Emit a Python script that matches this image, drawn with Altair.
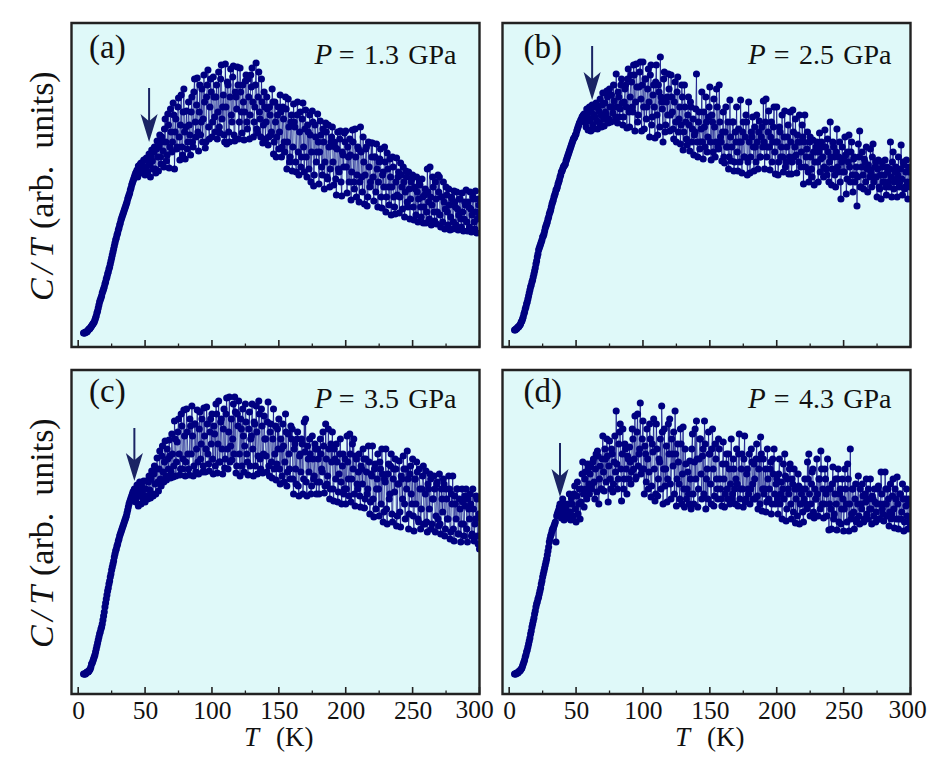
import altair as alt
import pandas as pd

TEMPERATURE = [
    4,5,6,7,8,9,10,11,12,13,14,15,16,17,18,19,20,21,22,23,24,25,26,27,28,29,30,31,32,33,
    34,35,36,37,38,39,40,41,42,43,44,45,46,47,48,49,50,51,52,53,54,55,56,57,58,59,60,61,62,63,
    64,65,66,67,68,69,70,71,72,73,74,75,76,77,78,79,80,81,82,83,84,85,86,87,88,89,90,91,92,93,
    94,95,96,97,98,99,100,101,102,103,104,105,106,107,108,109,110,111,112,113,114,115,116,117,118,119,120,121,122,123,
    124,125,126,127,128,129,130,131,132,133,134,135,136,137,138,139,140,141,142,143,144,145,146,147,148,149,150,151,152,153,
    154,155,156,157,158,159,160,161,162,163,164,165,166,167,168,169,170,171,172,173,174,175,176,177,178,179,180,181,182,183,
    184,185,186,187,188,189,190,191,192,193,194,195,196,197,198,199,200,201,202,203,204,205,206,207,208,209,210,211,212,213,
    214,215,216,217,218,219,220,221,222,223,224,225,226,227,228,229,230,231,232,233,234,235,236,237,238,239,240,241,242,243,
    244,245,246,247,248,249,250,251,252,253,254,255,256,257,258,259,260,261,262,263,264,265,266,267,268,269,270,271,272,273,
    274,275,276,277,278,279,280,281,282,283,284,285,286,287,288,289,290,291,292,293,294,295,296,297,298,299,300,
]

TEMPERATURE_HALF = [
    4.5,5.5,6.5,7.5,8.5,9.5,10.5,11.5,12.5,13.5,14.5,15.5,16.5,17.5,18.5,19.5,20.5,21.5,22.5,23.5,
    24.5,25.5,26.5,27.5,28.5,29.5,30.5,31.5,32.5,33.5,34.5,35.5,36.5,37.5,38.5,39.5,40.5,41.5,42.5,43.5,
    44.5,45.5,46.5,47.5,48.5,49.5,50.5,51.5,52.5,53.5,54.5,55.5,56.5,57.5,58.5,59.5,60.5,61.5,62.5,63.5,
    64.5,65.5,66.5,67.5,68.5,69.5,70.5,71.5,72.5,73.5,74.5,75.5,76.5,77.5,78.5,79.5,80.5,81.5,82.5,83.5,
    84.5,85.5,86.5,87.5,88.5,89.5,90.5,91.5,92.5,93.5,94.5,95.5,96.5,97.5,98.5,99.5,100.5,101.5,102.5,103.5,
    104.5,105.5,106.5,107.5,108.5,109.5,110.5,111.5,112.5,113.5,114.5,115.5,116.5,117.5,118.5,119.5,120.5,121.5,122.5,123.5,
    124.5,125.5,126.5,127.5,128.5,129.5,130.5,131.5,132.5,133.5,134.5,135.5,136.5,137.5,138.5,139.5,140.5,141.5,142.5,143.5,
    144.5,145.5,146.5,147.5,148.5,149.5,150.5,151.5,152.5,153.5,154.5,155.5,156.5,157.5,158.5,159.5,160.5,161.5,162.5,163.5,
    164.5,165.5,166.5,167.5,168.5,169.5,170.5,171.5,172.5,173.5,174.5,175.5,176.5,177.5,178.5,179.5,180.5,181.5,182.5,183.5,
    184.5,185.5,186.5,187.5,188.5,189.5,190.5,191.5,192.5,193.5,194.5,195.5,196.5,197.5,198.5,199.5,200.5,201.5,202.5,203.5,
    204.5,205.5,206.5,207.5,208.5,209.5,210.5,211.5,212.5,213.5,214.5,215.5,216.5,217.5,218.5,219.5,220.5,221.5,222.5,223.5,
    224.5,225.5,226.5,227.5,228.5,229.5,230.5,231.5,232.5,233.5,234.5,235.5,236.5,237.5,238.5,239.5,240.5,241.5,242.5,243.5,
    244.5,245.5,246.5,247.5,248.5,249.5,250.5,251.5,252.5,253.5,254.5,255.5,256.5,257.5,258.5,259.5,260.5,261.5,262.5,263.5,
    264.5,265.5,266.5,267.5,268.5,269.5,270.5,271.5,272.5,273.5,274.5,275.5,276.5,277.5,278.5,279.5,280.5,281.5,282.5,283.5,
    284.5,285.5,286.5,287.5,288.5,289.5,290.5,291.5,292.5,293.5,294.5,295.5,296.5,297.5,298.5,299.5,
]

CT_A = [
    14,14,15,16,18,19,21,23,25,29, 34,39,45,49,54,58,63,68,73,78,
    83,89,95,101,107,112,117,122,127,131, 135,139,143,148,152,157,162,166,170,174,
    177,181,176,184,178,187,
    172,189,175,193,170,197,178,200,174,206, 176,212,183,205,180,228,186,233,179,238,
    195,244,178,228,200,249,187,252,192,258, 188,236,205,222,192,250,200,268,210,269,
    196,262,225,205,272,199,250,277,208,268, 210,270,230,250,208,275,214,282,240,212,
    283,203,262,205,278,225,281,206,250,280, 208,279,235,262,207,266,225,268,208,272,
    279,210,240,284,214,275,228,268,204,255, 208,250,202,240,212,258,193,245,190,232,
    198,252,190,240,205,250,178,248,185,225, 176,243,220,175,245,172,235,190,244,175,
    237,170,215,232,165,236,161,222,185,233, 163,226,180,218,158,224,170,222,160,205,
    220,162,200,152,215,175,216,151,192,214, 216,154,190,208,147,217,165,218,150,200,
    145,220,170,210,143,198,141,205,160,204, 204,146,190,203,140,185,198,139,175,200,
    135,194,160,188,132,190,150,133,189,170, 134,184,160,180,130,176,145,175,128,165,
    172,127,158,170,125,165,140,168,124,152, 124,178,145,180,122,170,135,165,123,172,
    170,120,150,165,118,160,135,158,117,150, 118,156,140,155,117,148,128,154,116,145,
    157,116,140,155,115,150,125,156,114,148, 130,
]
CT_A_HALF = [
    14,15,15,17,18,20,22,24,27,31, 36,42,47,51,56,60,65,70,75,80,
    86,92,98,104,109,114,119,124,129,133, 137,141,145,150,154,159,164,168,172,175,
    170,178,183,174,181,180,
    180,176,186,182,190,186,195,178,198,190, 200,190,210,196,218,205,192,222,200,215,
    205,232,215,198,240,210,222,200,235,215, 220,198,245,212,235,205,255,225,242,215,
    235,212,258,228,245,205,262,220,240,255, 225,250,215,262,235,220,268,228,252,205,
    240,265,215,250,232,270,212,255,238,262, 225,255,214,245,235,272,218,250,232,260,
    245,225,262,218,250,235,210,245,222,240, 225,238,210,232,215,245,205,225,210,240,
    215,235,200,228,195,238,205,220,190,232, 200,225,185,232,195,215,180,228,200,218,
    190,222,178,212,195,225,172,210,195,205, 195,212,172,205,185,215,168,200,178,210,
    185,205,168,198,178,208,165,195,180,205, 180,200,165,192,175,205,158,190,172,198,
    165,195,155,185,172,200,150,180,165,190, 170,190,155,178,165,188,150,172,160,185,
    150,178,142,170,160,180,140,165,152,175, 150,172,138,165,155,170,140,158,148,168,
    140,160,132,155,148,162,130,150,140,158, 135,155,128,150,142,160,126,148,135,155,
    132,150,125,145,138,152,122,142,130,148, 125,145,122,138,132,148,120,135,128,142,
    125,145,120,138,132,148,118,135,128,142,
]

CT_B = [
    17,18,19,20,22,25,28,33,38,43, 48,54,60,65,70,76,83,90,97,101,
    105,110,113,119,123,128,133,137,143,147, 152,157,160,165,170,175,178,181,183,188,
    192,196,200,204,208,210,213,218,222,225, 228,231,233,225,238,217,
    240,216,242,218,230,244,218,236,248,220, 254,221,235,256,224,258,225,240,262,226,
    273,224,250,238,268,222,245,262,219,278, 220,272,240,282,216,283,225,260,285,216,
    285,218,268,240,278,210,282,230,262,209, 282,212,255,290,245,205,275,222,250,273,
    216,272,235,208,265,205,270,228,203,262, 197,262,225,202,250,196,240,218,192,215,
    273,190,235,205,255,188,220,250,195,230, 260,187,225,248,190,258,200,262,210,186,
    235,184,240,200,178,247,186,225,176,215, 240,176,205,247,174,225,190,232,172,245,
    174,215,230,176,200,232,178,226,190,220, 246,178,248,200,236,177,225,205,240,173,
    240,172,220,190,232,175,236,185,210,173, 235,173,237,190,228,174,205,232,180,222,
    163,232,190,215,165,210,178,207,162,195, 205,165,214,188,200,170,217,178,208,165,
    225,162,205,190,160,218,175,205,148,200, 188,210,153,195,212,165,205,155,190,172,
    141,203,216,160,195,158,185,200,155,178, 198,160,203,170,185,150,187,158,148,180,
    165,187,152,175,160,205,150,195,165,180, 150,190,165,202,152,182,160,187,148,175, 165,
]
CT_B_HALF = [
    17,18,20,21,23,26,30,35,40,45, 51,57,62,67,73,79,86,93,99,103,
    107,111,116,121,125,130,135,140,145,150, 154,158,163,167,172,176,180,182,186,190,
    194,198,202,206,209,212,
    216,220,224,227,230,232,230,220,232,228, 226,235,222,232,240,226,240,224,232,242,
    228,244,232,250,228,240,252,234,246,230, 240,255,230,262,244,230,258,240,268,235,
    250,265,235,272,245,260,232,275,248,262, 240,268,228,258,245,272,222,252,240,265,
    232,262,220,250,238,268,215,245,232,258, 232,250,218,245,225,255,215,240,222,250,
    215,240,208,232,222,245,205,228,212,238, 205,225,198,218,205,235,200,225,210,240,
    205,232,195,220,205,240,198,225,205,215, 190,215,200,225,190,210,200,225,185,205,
    195,218,185,205,215,190,210,225,185,205, 190,210,200,220,185,205,215,190,210,200,
    205,225,190,215,200,210,185,220,195,205, 205,185,215,200,190,210,180,200,222,190,
    205,185,215,200,192,212,185,205,195,210, 205,180,198,175,205,190,170,195,185,200,
    185,195,175,205,190,180,200,172,195,185, 190,178,200,172,195,180,190,165,185,175,
    175,192,168,185,180,195,172,188,165,180, 170,190,160,180,172,188,165,178,182,170,
    175,190,165,180,170,178,160,172,185,165, 172,160,180,165,178,170,185,158,175,168,
    172,160,178,168,185,158,175,165,180,160,
]

CT_C = [
    20,20,21,22,23,25,30,33,37,42, 48,54,60,65,70,78,87,95,103,110,
    117,124,130,137,143,148,153,158,162,166, 170,174,178,184,190,194,198,202,205,192,
    209,188,212,190,200,213,
    192,213,195,218,196,223,198,228,200,236, 203,243,208,248,212,253,214,235,254,216,
    260,217,273,218,252,275,219,280,225,284, 218,285,240,219,268,288,218,270,222,284,
    220,282,250,222,286,222,287,240,223,275, 280,220,260,290,221,293,232,275,220,285,
    235,296,225,297,248,234,290,297,221,280, 293,218,265,285,222,290,240,219,282,255,
    290,218,270,288,220,293,235,285,221,278, 255,222,292,218,270,216,285,240,214,265,
    275,210,245,270,212,280,208,260,225,268, 265,200,250,210,262,198,240,255,200,272,
    275,198,235,255,200,258,215,250,200,245, 200,255,225,262,201,270,210,265,195,250,
    262,193,235,250,192,220,255,190,240,205, 190,258,215,260,192,250,255,188,235,205,
    240,187,225,245,186,235,200,248,180,220, 248,177,230,205,240,178,225,245,172,215,
    245,170,230,200,240,172,225,235,168,210, 233,167,215,238,190,225,243,165,220,200,
    235,163,215,232,175,225,165,205,228,170, 223,162,205,220,165,195,218,162,210,175,
    220,160,195,215,158,205,175,218,155,200, 218,153,190,205,160,195,152,205,170,198,
    205,152,185,200,158,205,153,175,195,150, 145,
]
CT_C_HALF = [
    20,20,22,22,24,27,31,35,39,45, 51,57,62,67,74,82,91,99,106,113,
    120,127,133,140,145,150,155,160,164,168, 172,176,181,187,192,196,200,203,200,196,
    198,205,200,208,195,205,
    205,198,212,204,215,200,220,210,225,212, 225,215,238,222,232,218,245,225,238,222,
    240,228,255,232,262,240,225,268,235,258, 232,262,225,275,240,258,228,270,245,232,
    265,235,275,228,258,245,270,230,262,250, 235,268,228,280,250,232,272,245,265,226,
    280,245,262,232,275,255,240,282,228,268, 240,275,228,258,248,272,232,265,228,258,
    245,272,228,262,238,280,225,268,240,255, 238,272,228,262,232,255,225,268,230,245,
    225,255,218,248,232,262,222,240,215,255, 215,245,225,255,208,238,222,250,215,242,
    212,248,222,240,208,235,218,245,212,235, 212,240,222,248,208,235,218,245,205,232,
    205,245,215,232,202,240,212,228,200,235, 205,232,198,240,215,225,200,238,210,222,
    198,228,210,235,195,222,205,232,192,218, 195,225,185,215,205,232,190,220,182,212,
    185,220,195,228,180,215,202,225,178,210, 182,218,195,225,175,205,215,180,228,190,
    178,215,190,222,172,205,185,218,170,200, 172,210,185,215,170,195,205,178,212,168,
    170,205,182,210,165,195,175,205,162,190, 165,198,175,205,160,185,170,192,158,188,
    165,195,175,190,160,185,170,198,158,180,
]

CT_D = [
    20,20,21,22,23,25,28,32,37,42, 47,53,60,67,73,80,87,92,97,103,
    110,117,123,129,135,143,152,158,163,166, 170,152,180,184,190,176,195,174,190,180,
    176,200,174,190,178,208,
    172,212,190,175,205,232,187,222,195,226, 200,227,210,235,195,240,243,190,228,205,
    258,203,235,255,192,253,205,240,210,258, 283,205,250,270,193,265,215,245,200,235,
    247,210,265,225,278,217,280,240,291,225, 273,200,240,265,205,270,197,250,275,193,
    270,198,235,255,288,190,265,225,192,270, 275,195,240,262,283,188,250,210,265,190,
    267,187,230,205,200,233,185,260,190,265, 273,187,235,255,195,245,273,185,225,262,
    240,190,265,188,250,215,195,245,205,188, 252,187,230,205,240,190,255,200,225,190,
    245,188,260,205,240,187,258,195,225,200, 190,245,210,230,195,250,185,235,257,183,
    235,205,182,245,195,225,180,235,245,190, 215,180,235,200,175,230,240,173,215,200,
    230,175,210,225,171,205,220,170,190,205, 172,215,190,232,240,178,210,225,176,195,
    235,178,215,243,190,176,225,200,235,164, 205,165,227,180,215,164,225,200,170,215,
    163,225,190,230,163,245,180,205,165,210, 175,218,170,190,210,172,200,215,175,195,
    215,170,195,205,172,190,208,175,222,185, 173,222,190,205,168,210,180,215,166,195,
    217,165,200,175,210,163,195,205,165,190, 170,
]
CT_D_HALF = [
    20,21,21,23,24,26,30,34,39,44, 50,56,63,70,76,83,90,95,100,106,
    113,120,126,132,139,147,155,160,165,168, 172,178,182,187,186,182,188,178,185,178,
    190,182,196,178,200,185,
    198,180,205,192,220,200,215,205,230,210, 220,205,232,212,225,202,238,215,205,235,
    222,245,212,238,228,215,245,202,232,222, 230,215,262,225,240,205,250,225,238,215,
    232,222,255,235,215,262,228,245,220,255, 225,248,212,235,222,255,208,242,225,200,
    245,215,232,205,262,225,208,248,215,240, 210,255,228,200,240,215,232,195,250,220,
    205,245,195,222,190,215,245,200,232,215, 235,205,255,220,238,200,250,215,195,240,
    210,245,225,198,235,205,255,215,195,230, 215,200,240,195,225,210,195,235,205,215,
    210,240,195,225,205,235,192,220,205,240, 205,232,195,215,235,198,225,190,240,205,
    200,225,192,215,205,232,190,220,200,210, 195,220,190,212,205,195,218,185,205,225,
    190,215,182,205,195,178,208,190,200,182, 195,205,185,215,200,190,222,182,205,195,
    200,215,185,225,205,190,215,178,205,190, 185,210,175,200,190,215,172,205,185,195,
    185,205,172,215,190,175,205,182,195,172, 190,178,205,185,198,175,192,180,205,185,
    185,198,178,192,182,205,175,190,200,180, 190,205,178,195,182,175,198,185,205,175,
    190,175,200,182,195,172,188,178,195,175,
]

MAJOR_TICKS = [0, 50, 100, 150, 200, 250, 300]
MINOR_TICKS = [25, 75, 125, 175, 225, 275]
PANEL_NAMES = ["(a)", "(b)", "(c)", "(d)"]
PRESSURES = ["1.3", "2.5", "3.5", "4.3"]
ARROW_T = [53, 62, 42, 38]
ARROW_TOP = [259, 301, 266, 251]
ARROW_TIP = [205, 247, 213, 197]

W, H = 408, 324
NAVY = "#000080"
ARROW = "#1a2464"
BG = "#DFF9F9"
INK = "#111111"
FRAME = "#222222"
SERIF = "Liberation Serif"
XS = alt.Scale(domain=[-5, 300], nice=False, zero=False)
YS = alt.Scale(domain=[0, 324], nice=False, zero=False)
ONE = alt.Data(values=[{"a": 1}])


def label(txt, x, y, size, italic=False, angle=0, align="left"):
    return alt.Chart(ONE).mark_text(
        text=txt, font=SERIF, fontSize=size, fontStyle="italic" if italic else "normal",
        angle=angle, align=align, baseline="alphabetic", color=INK,
    ).encode(x=alt.value(x), y=alt.value(y))


def panel(i, whole, half, left, bottom, name_x, text_y):
    df = pd.DataFrame({"T": TEMPERATURE + TEMPERATURE_HALF, "C": whole + half}).sort_values("T")
    shown = [v for v in MAJOR_TICKS if not (i >= 2 and v == 300)]
    x = alt.X("T:Q", scale=XS, axis=alt.Axis(
        values=shown, tickSize=0, domain=False, grid=False, title=None, labels=bottom,
        labelFont=SERIF, labelFontSize=25.5, labelColor=INK, labelPadding=4,
        labelAngle=0, labelFlush=False, labelOverlap=False, format="d"))
    y = alt.Y("C:Q", scale=YS, axis=None)
    line = alt.Chart(df).mark_line(color=NAVY, strokeWidth=0.7, clip=True).encode(x=x, y=y)
    dots = alt.Chart(df).mark_circle(color=NAVY, size=50, opacity=1, clip=True).encode(x=x, y=y)

    arrow_df = pd.DataFrame({"T": [ARROW_T[i]], "top": [ARROW_TOP[i]], "tip": [ARROW_TIP[i]],
                             "head": [ARROW_TIP[i] + 14]})
    shaft = alt.Chart(arrow_df).mark_rule(color=ARROW, strokeWidth=2).encode(
        x=alt.X("T:Q", scale=XS), y=alt.Y("top:Q", scale=YS), y2="head:Q")
    head = alt.Chart(arrow_df).mark_point(
        shape="M0,0.93L-0.57,-0.93L0,-0.45L0.57,-0.93Z", size=900, filled=True, color=ARROW, opacity=1, strokeWidth=0,
    ).encode(x=alt.X("T:Q", scale=XS), y=alt.Y("head:Q", scale=YS))

    major = alt.Chart(pd.DataFrame({"T": MAJOR_TICKS})).mark_rule(color=FRAME, strokeWidth=1.6).encode(
        x=alt.X("T:Q", scale=XS), y=alt.value(H), y2=alt.value(H - 7))
    minor = alt.Chart(pd.DataFrame({"T": MINOR_TICKS})).mark_rule(color=FRAME, strokeWidth=1.3).encode(
        x=alt.X("T:Q", scale=XS), y=alt.value(H), y2=alt.value(H - 3.5))
    frame = alt.Chart(ONE).mark_rect(fillOpacity=0, stroke=FRAME, strokeWidth=2.4).encode(
        x=alt.value(0), x2=alt.value(W), y=alt.value(0), y2=alt.value(H))

    layers = [line, dots, shaft, head, major, minor, frame,
              label(PANEL_NAMES[i], name_x, text_y, 33),
              label("P", 243 if i % 2 == 0 else 245.5, text_y + 5.5, 29, italic=True),
              label("=\u2004" + PRESSURES[i] + "\u2004GPa", 385 if i % 2 == 0 else 389, text_y + 5.5, 28, align="right")]
    if left:
        layers += [label("C", -19, 278, 34, italic=True, angle=270),
                   label("/", -19, 251, 34, italic=True, angle=270),
                   label("T", -19, 234.7, 34, italic=True, angle=270),
                   label("(arb.\u2002units)", -19, 206, 34, angle=270)]
    if bottom:
        layers += [label("T", 172.5, H + 52, 27, italic=True),
                   label("(K)", 204.5, H + 52, 27)]
    if i == 2:
        layers += [label("300", W - 5, H + 24, 25.5, align="center")]
    if i == 3:
        layers += [label("300", W - 3, H + 24, 25.5, align="center")]
    return alt.layer(*layers).properties(width=W, height=H)


chart = alt.concat(
    panel(0, CT_A, CT_A_HALF, True, False, 17.5, 35),
    panel(1, CT_B, CT_B_HALF, False, False, 21, 35),
    panel(2, CT_C, CT_C_HALF, True, True, 17.5, 32),
    panel(3, CT_D, CT_D_HALF, False, True, 21, 32),
    columns=2, spacing=23, bounds="flush",
).configure_view(fill=BG, stroke=None).properties(
    autosize=alt.AutoSizeParams(type="none"),
    padding={"left": 63.5, "top": 15, "right": 855.5, "bottom": 729},
)

chart.save("out.html", embed_options={"renderer": "svg", "actions": False})
